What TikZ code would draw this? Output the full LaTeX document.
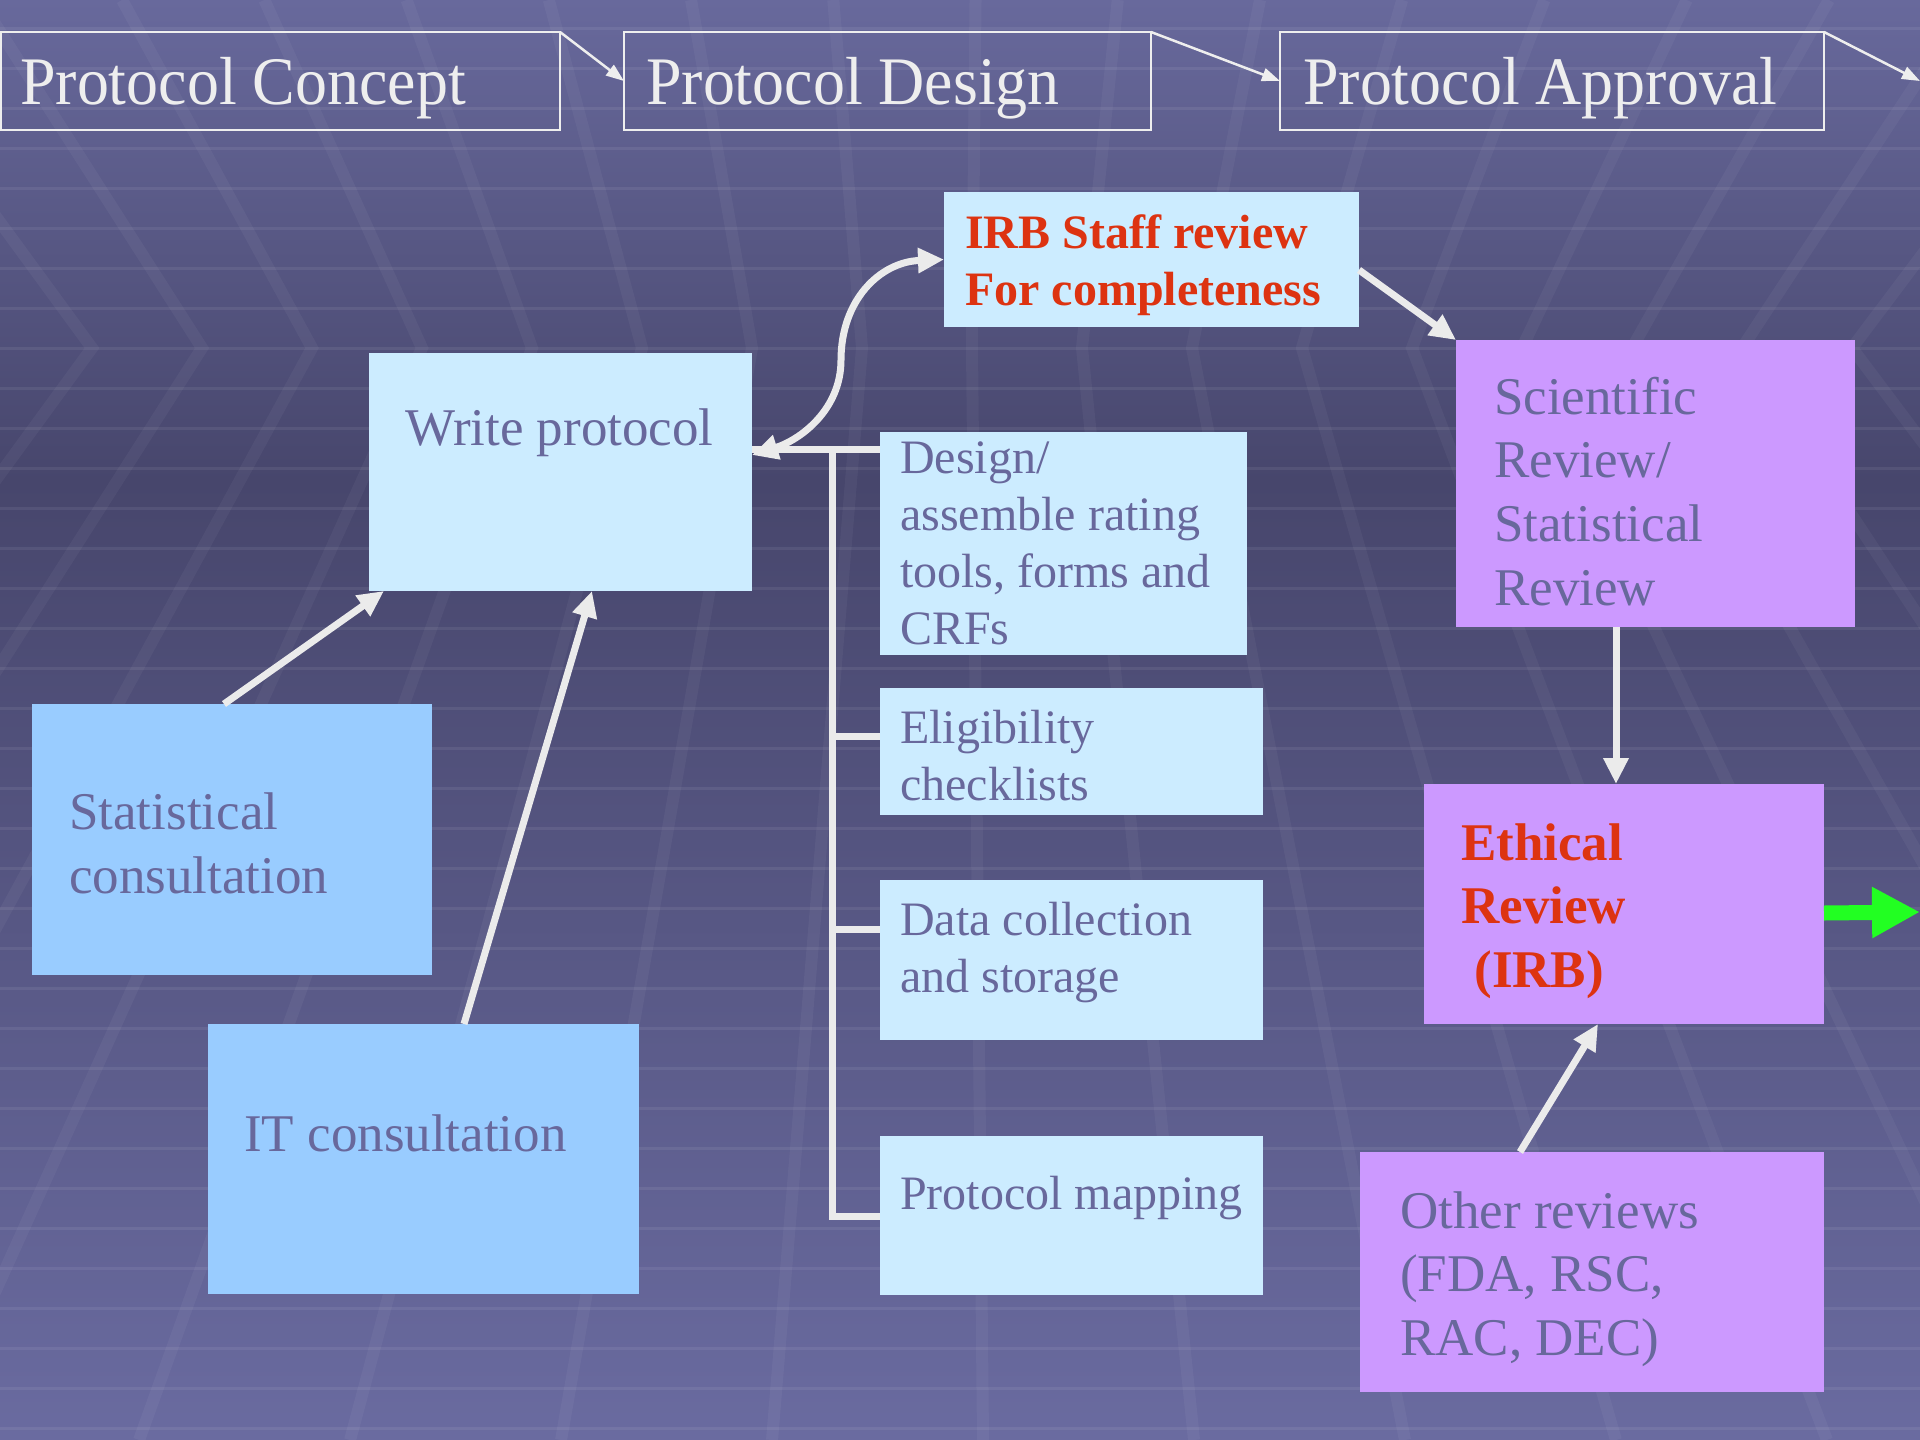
\documentclass[tikz,border=0pt]{standalone}
\usepackage{fontspec}
\setmainfont{Liberation Serif}
\newfontfamily\hdrfont[FakeStretch=0.94]{Liberation Serif}
\usetikzlibrary{arrows.meta,calc}
\definecolor{lightblue}{HTML}{CCECFF}
\definecolor{midblue}{HTML}{99CCFF}
\definecolor{lilac}{HTML}{CC99FF}
\definecolor{boxtext}{HTML}{68689C}
\definecolor{redtext}{HTML}{DD3311}
\definecolor{linecol}{HTML}{EBEBEB}
\definecolor{hdrline}{HTML}{EEEEEE}
\definecolor{arrowgreen}{HTML}{22FF22}
\definecolor{bgtop}{HTML}{68699C}
\definecolor{bgmid}{HTML}{47466C}
\definecolor{bgbot}{HTML}{6A6BA0}
\begin{document}
\begin{tikzpicture}[x=1pt,y=-1pt,
  panel/.style={rectangle, inner sep=0pt, outer sep=0pt, anchor=north west},
  hdrbox/.style={panel, draw=hdrline, line width=2pt},
  pale/.style={panel, fill=lightblue},
  blue/.style={panel, fill=midblue},
  lilacbox/.style={panel, fill=lilac},
  hdrtxt/.style={anchor=base west, inner sep=0pt, text=hdrline, font=\hdrfont\fontsize{68}{80}\selectfont},
  bigtxt/.style={anchor=base west, inner sep=0pt, text=boxtext, font=\fontsize{53}{64}\selectfont},
  smalltxt/.style={anchor=base west, inner sep=0pt, text=boxtext, font=\fontsize{48}{57}\selectfont},
  redbig/.style={anchor=base west, inner sep=0pt, text=redtext, font=\bfseries\fontsize{53}{63.5}\selectfont},
  redsmall/.style={anchor=base west, inner sep=0pt, text=redtext, font=\bfseries\fontsize{48}{57}\selectfont},
  whitearrow/.style={draw=linecol, line width=7pt, -{Triangle[length=26pt,width=24pt]}},
  bar/.style={draw=linecol, line width=7pt},
  hdrarrow/.style={draw=hdrline, line width=2.5pt, -{Triangle[length=18pt,width=13pt]}},
  greenarrow/.style={draw=arrowgreen, line width=15pt, -{Triangle[length=48pt,width=48pt]}},
  bgray/.style={draw=white, opacity=0.045, line width=12pt},
  bhline/.style={draw=white, opacity=0.07, line width=3pt}
]
\useasboundingbox (0,0) rectangle (1920,1440);
% background
\shade[top color=bgtop, bottom color=bgmid] (0,0) rectangle (1920,480);
\shade[top color=bgmid, bottom color=bgbot] (0,480) rectangle (1920,1440);
\begin{scope}
  \clip (0,0) rectangle (1920,1440);
  \foreach \k in {-12,...,28}{
    \pgfmathsetmacro{\xo}{92+110*\k}
    \pgfmathsetmacro{\xb}{960+(\xo-960)*1.918}
    \pgfmathsetmacro{\xt}{960+(\xo-960)*1.293}
    \draw[bgray] (\xt,0) -- (\xo,348) -- (\xb,1440);
  }
  \foreach \y in {28,68,...,1428} \draw[bhline] (0,\y) -- (1920,\y);
\end{scope}

% header boxes
\node[hdrbox, minimum width=559pt, minimum height=98pt] (concept) at (1,32) {};
\node[hdrbox, minimum width=527pt, minimum height=98pt] (pdesign) at (624,32) {};
\node[hdrbox, minimum width=544pt, minimum height=98pt] (approval) at (1280,32) {};
\node[hdrtxt] (concept-t) at (20,104) {Protocol Concept};
\node[hdrtxt] (pdesign-t) at (646,104) {Protocol Design};
\node[hdrtxt] (approval-t) at (1303,104) {Protocol Approval};
\coordinate (hend) at (1920,81);
\draw[hdrarrow] (concept.north east) -- (pdesign.west);
\draw[hdrarrow] (pdesign.north east) -- (approval.west);
\draw[hdrarrow] (approval.north east) -- (hend);

% boxes
\node[pale, minimum width=415pt, minimum height=135pt] (irb) at (944,192) {};
\node[pale, minimum width=383pt, minimum height=238pt] (write) at (369,353) {};
\node[pale, minimum width=367pt, minimum height=223pt] (dsg) at (880,432) {};
\node[pale, minimum width=383pt, minimum height=127pt] (elig) at (880,688) {};
\node[pale, minimum width=383pt, minimum height=160pt] (data) at (880,880) {};
\node[pale, minimum width=383pt, minimum height=159pt] (pmap) at (880,1136) {};
\node[blue, minimum width=400pt, minimum height=271pt] (stat) at (32,704) {};
\node[blue, minimum width=431pt, minimum height=270pt] (it) at (208,1024) {};
\node[lilacbox, minimum width=399pt, minimum height=287pt] (sci) at (1456,340) {};
\node[lilacbox, minimum width=400pt, minimum height=240pt] (eth) at (1424,784) {};
\node[lilacbox, minimum width=464pt, minimum height=240pt] (other) at (1360,1152) {};

% texts
\node[redsmall] (irb-t) at (965,248) {\vtop{\hbox{IRB Staff review}\hbox{For completeness}}};
\node[bigtxt] (write-t) at (405,445) {Write protocol};
\node[smalltxt] (dsg-t) at (900,473) {\vtop{\hbox{Design/}\hbox{assemble rating}\hbox{tools, forms and}\hbox{CRFs}}};
\node[smalltxt] (elig-t) at (900,743) {\vtop{\hbox{Eligibility}\hbox{checklists}}};
\node[smalltxt] (data-t) at (900,935) {\vtop{\hbox{Data collection}\hbox{and storage}}};
\node[smalltxt] (pmap-t) at (900,1209) {Protocol mapping};
\node[bigtxt] (stat-t) at (69,829) {\vtop{\hbox{Statistical}\hbox{consultation}}};
\node[bigtxt] (it-t) at (244,1151) {IT consultation};
\node[bigtxt, font=\fontsize{53}{63.7}\selectfont] (sci-t) at (1494,414) {\vtop{\hbox{Scientific}\hbox{Review/}\hbox{Statistical}\hbox{Review}}};
\node[redbig] (eth-t) at (1461,860) {\vtop{\hbox{Ethical}\hbox{Review}\hbox{\ (IRB)}}};
\node[bigtxt, font=\fontsize{53}{63.5}\selectfont] (other-t) at (1400,1228) {\vtop{\hbox{Other reviews}\hbox{(FDA, RSC,}\hbox{RAC, DEC)}}};

% bracket
\coordinate (jt) at (832,449);
\coordinate (j1) at (832,736);
\coordinate (j2) at (832,929);
\coordinate (jb) at (832,1216);
\draw[bar] (write.east |- jt) -- (dsg.west |- jt);
\draw[bar] (jt) -- (jb) -- (pmap.west |- jb);
\draw[bar] (j1) -- (elig.west |- j1);
\draw[bar] (j2) -- (data.west |- j2);

% curved double arrow
\draw[draw=linecol, line width=7pt, {Triangle[length=26pt,width=24pt]}-{Triangle[length=26pt,width=24pt]}]
  ($(write.east)+(0,-17)$) .. controls (800,440) and (841,410) .. (841,360)
  .. controls (841,300) and (880,262) .. (irb.west);

% arrows
\draw[whitearrow] ($(stat.north)+(-8,0)$) -- ($(write.south west)+(15,0)$);
\draw[whitearrow] ($(it.north west)+(256,0)$) -- ($(write.south west)+(223,0)$);
\draw[whitearrow] ($(irb.north east)+(0,78)$) -- (sci.north west);
\draw[whitearrow] ($(sci.south west)+(160,0)$) -- ($(eth.north west)+(192,0)$);
\draw[whitearrow] ($(other.north west)+(160,0)$) -- ($(eth.south west)+(174,0)$);
\coordinate (gend) at (1920,912);
\draw[greenarrow] ($(eth.east)+(0,9)$) -- (gend);
\end{tikzpicture}
\end{document}
